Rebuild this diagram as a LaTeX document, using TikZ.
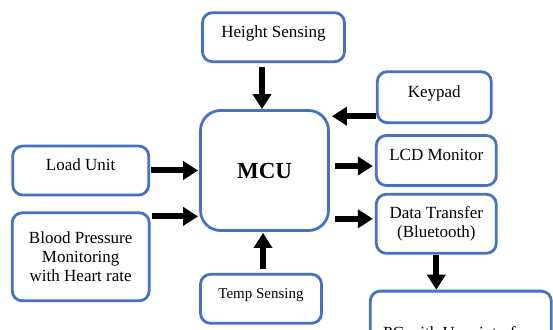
\documentclass[tikz,border=0pt]{standalone}
\usepackage{fontspec}
\setmainfont{Liberation Serif}
\usetikzlibrary{positioning, arrows.meta}
\definecolor{boxblue}{HTML}{4472C4}

\begin{document}
\begin{tikzpicture}[
  x=1pt, y=1pt,
  node distance = 10pt and 45pt,
  every node/.style = {align=center, font=\fontsize{17}{19}\selectfont},
  box/.style = {draw=boxblue, line width=2.8pt, rounded corners=10pt, inner sep=3pt},
  oneline/.style = {text height=12pt, text depth=12pt},
  arrow/.style = {-{Triangle[width=18pt, length=15pt]}, line width=6pt}
]
\useasboundingbox (0,0) rectangle (553,329);

% --- MCU
\node[box, rounded corners=20pt, minimum width=128pt, minimum height=120pt,
      font=\fontsize{23}{26}\selectfont\bfseries] (mcu) at (264.5,158.5) {MCU};

% --- Inputs
\node[box, oneline, minimum width=136pt, minimum height=49pt, left=49pt of mcu] (load) {Load Unit};
\node[box, minimum width=137pt, minimum height=88pt, below=15pt of load] (blood) {Blood Pressure \\ Monitoring \\ with Heart rate};
\node[box, oneline, minimum width=142pt, minimum height=49pt, above=46pt of mcu, xshift=9pt] (height) {Height Sensing};
\node[box, oneline, minimum width=121pt, minimum height=49pt, below=41pt of mcu, xshift=-3.5pt,
      font=\fontsize{15}{18}\selectfont] (temp) {Temp Sensing};

% --- Outputs
\node[box, oneline, minimum width=120pt, minimum height=50pt, right=45pt of mcu, yshift=10pt] (lcd) {LCD Monitor};
\node[box, oneline, minimum width=114pt, minimum height=51pt, above=10pt of lcd, xshift=-2pt] (keypad) {Keypad};
\node[box, minimum width=120pt, minimum height=59pt, below=6pt of lcd] (data) {Data Transfer \\ (Bluetooth)};
\node[box, oneline, minimum width=181pt, minimum height=94pt, below=35pt of data, xshift=24.5pt] (pc) {PC with User interface};

% --- Arrows
\draw[arrow, shorten <=4pt] ([xshift=-2.5pt]mcu.north |- height.south) -- ([xshift=-2.5pt]mcu.north);
\draw[arrow, shorten >=2pt] ([yshift=-19pt]keypad.west) -- ([yshift=-19pt]keypad.west -| mcu.east);
\draw[arrow, shorten <=5pt, shorten >=2pt] ([yshift=-5.5pt]lcd.west -| mcu.east) -- ([yshift=-5.5pt]lcd.west);
\draw[arrow, shorten <=5pt, shorten >=2pt] ([yshift=5pt]data.west -| mcu.east) -- ([yshift=5pt]data.west);
\draw[arrow, shorten <=1pt, shorten >=1pt] (load.east) -- (load.east -| mcu.west);
\draw[arrow, shorten <=1pt, shorten >=1pt] ([yshift=-5pt]blood.north east) -- ([yshift=-5pt]blood.north east -| mcu.west);
\draw[arrow, shorten <=4pt, shorten >=1pt] ([xshift=-1.5pt]mcu.south |- temp.north) -- ([xshift=-1.5pt]mcu.south);
\draw[arrow] (data.south) -- (data.south |- pc.north);

\end{tikzpicture}
\end{document}
